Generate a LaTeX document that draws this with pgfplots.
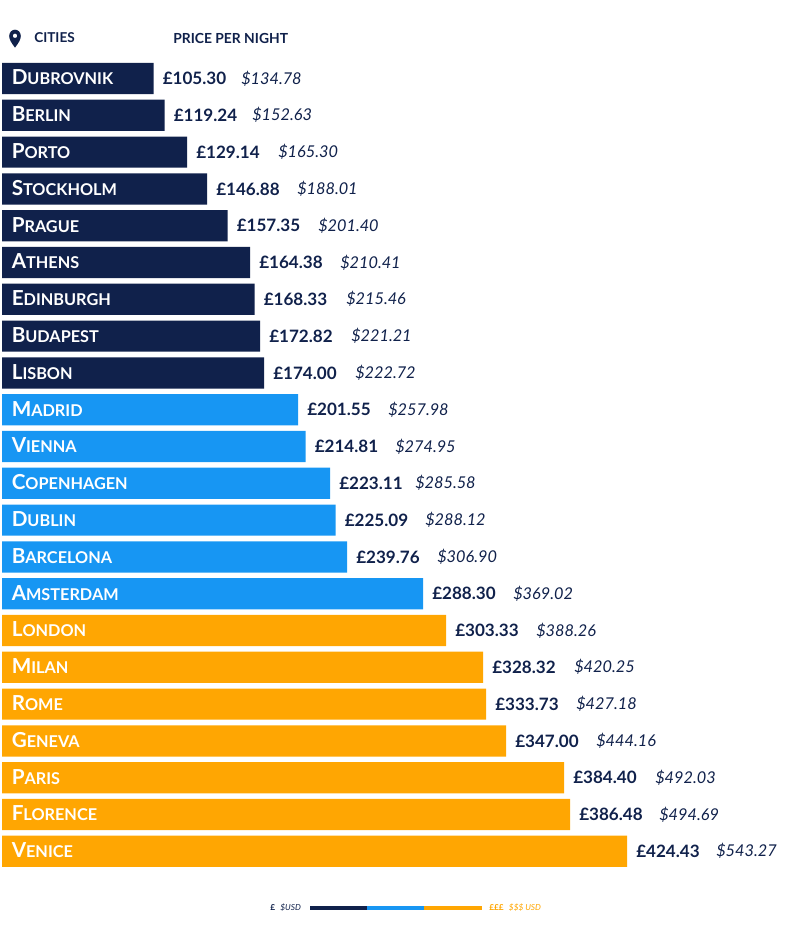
\documentclass[border=0pt]{standalone}
\usepackage{pgfplots}
\usepackage{fontspec}
\pgfplotsset{compat=1.18}
\setmainfont{Lato}
\definecolor{navy}{HTML}{10214B}
\definecolor{sky}{HTML}{1796F3}
\definecolor{amber}{HTML}{FFA602}
\newcommand{\capsA}{\fontsize{15.5pt}{16pt}\selectfont}
\newcommand{\capsB}{\fontsize{12.2pt}{14pt}\selectfont}
% row: y px, bar end px, first letter, rest, GBP, USD, x of USD
\newcommand{\row}[7]{%
  \node[anchor=west,inner sep=0pt,text=white,font=\bfseries] at (axis cs:9.5,#1-1) {{\capsA #3}{\capsB #4}};
  \node[anchor=west,inner sep=0pt,text=navy,font=\bfseries\fontsize{12.8pt}{14pt}\selectfont] at (axis cs:#2+9,#1) {£#5};
  \node[anchor=west,inner sep=0pt,text=navy,font=\itshape\fontsize{12.2pt}{14pt}\selectfont] at (axis cs:#7-3,#1) {\$#6};
}
\begin{document}
\begin{tikzpicture}
\begin{axis}[
  at={(0,0)},anchor=south west,
  width=600pt,height=710.25pt,scale only axis,
  xmin=-2,xmax=798,ymin=0,ymax=947,y dir=reverse,
  hide axis,clip=false,
  xbar,bar width=23.4pt,bar shift=0pt,
]
\addplot[draw=none,fill=navy] coordinates {(151.5,78.5)(162.5,115.3)(185,152.1)(205,188.9)(225.5,225.7)(248,262.5)(252.5,299.3)(258,336.1)(262,372.9)};
\addplot[draw=none,fill=sky] coordinates {(296,409.7)(303.5,446.5)(328,483.3)(333.5,520.1)(345,556.9)(421,593.7)};
\addplot[draw=none,fill=amber] coordinates {(444,630.5)(481,667.3)(484,704.1)(504,740.9)(562,777.7)(568,814.5)(625,851.3)};
\addplot[forget plot,sharp plot,draw=navy,line width=2.6pt] coordinates {(308,908)(365,908)};
\addplot[forget plot,sharp plot,draw=sky,line width=2.6pt] coordinates {(365,908)(422,908)};
\addplot[forget plot,sharp plot,draw=amber,line width=2.6pt] coordinates {(422,908)(480,908)};
\row{78.5}{151.5}{D}{UBROVNIK}{105.30}{134.78}{242}
\row{115.3}{162.5}{B}{ERLIN}{119.24}{152.63}{253}
\row{152.1}{185}{P}{ORTO}{129.14}{165.30}{279}
\row{188.9}{205}{S}{TOCKHOLM}{146.88}{188.01}{298}
\row{225.7}{225.5}{P}{RAGUE}{157.35}{201.40}{319}
\row{262.5}{248}{A}{THENS}{164.38}{210.41}{341}
\row{299.3}{252.5}{E}{DINBURGH}{168.33}{215.46}{347}
\row{336.1}{258}{B}{UDAPEST}{172.82}{221.21}{352}
\row{372.9}{262}{L}{ISBON}{174.00}{222.72}{356}
\row{409.7}{296}{M}{ADRID}{201.55}{257.98}{389}
\row{446.5}{303.5}{V}{IENNA}{214.81}{274.95}{396}
\row{483.3}{328}{C}{OPENHAGEN}{223.11}{285.58}{416}
\row{520.1}{333.5}{D}{UBLIN}{225.09}{288.12}{426}
\row{556.9}{345}{B}{ARCELONA}{239.76}{306.90}{438}
\row{593.7}{421}{A}{MSTERDAM}{288.30}{369.02}{514}
\row{630.5}{444}{L}{ONDON}{303.33}{388.26}{537}
\row{667.3}{481}{M}{ILAN}{328.32}{420.25}{575}
\row{704.1}{484}{R}{OME}{333.73}{427.18}{577}
\row{740.9}{504}{G}{ENEVA}{347.00}{444.16}{597}
\row{777.7}{562}{P}{ARIS}{384.40}{492.03}{656}
\row{814.5}{568}{F}{LORENCE}{386.48}{494.69}{660}
\row{851.3}{625}{V}{ENICE}{424.43}{543.27}{717}
\node[anchor=west,inner sep=0pt,text=navy,font=\bfseries\fontsize{10.2pt}{12pt}\selectfont] at (axis cs:32,38) {CITIES};
\node[anchor=west,inner sep=0pt,text=navy,font=\bfseries\fontsize{10.4pt}{12pt}\selectfont] at (axis cs:171,38) {PRICE PER NIGHT};
\node[anchor=west,inner sep=0pt,text=navy,font=\fontsize{6.2pt}{7pt}\selectfont] at (axis cs:268,908) {\textbf{£}\hspace{4pt}\textit{\$USD}};
\node[anchor=west,inner sep=0pt,text=amber,font=\fontsize{6.2pt}{7pt}\selectfont] at (axis cs:487,908) {\textbf{£££}\hspace{4pt}\textit{\$\$\$ USD}};
\end{axis}
% location pin
\fill[navy,even odd rule] (11.25pt,674.5pt) .. controls (8.2pt,678.5pt) and (6.9pt,680.8pt) .. (6.9pt,683.3pt)
  .. controls (6.9pt,686pt) and (8.9pt,688pt) .. (11.25pt,688pt)
  .. controls (13.6pt,688pt) and (15.6pt,686pt) .. (15.6pt,683.3pt)
  .. controls (15.6pt,680.8pt) and (14.3pt,678.5pt) .. (11.25pt,674.5pt) -- cycle
  (11.25pt,683.4pt) circle (1.7pt);
\path[use as bounding box] (0,0) rectangle (600pt,710.25pt);
\end{tikzpicture}
\end{document}
